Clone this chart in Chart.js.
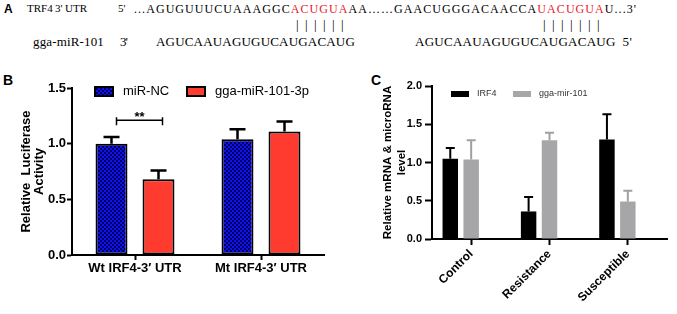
<!DOCTYPE html>
<html>
<head>
<meta charset="utf-8">
<script src="https://cdn.jsdelivr.net/npm/chart.js@4.4.1/dist/chart.umd.min.js"></script>
<style>
  body { margin: 0; width: 677px; height: 314px; background: #fff; position: relative; overflow: hidden; }
  .seq { position: absolute; white-space: pre; font-family: "Liberation Serif", "Times New Roman", serif; font-size: 13px; line-height: 1; color: #000; }
  .l1 { font-size: 12px; top: 2.5px; }
  .lab1 { font-size: 11px; top: 3px; }
  .l3 { top: 35px; }
  .red { color: #e8202a; }
  .pair { letter-spacing: 6.4px; top: 18px; }
  .panel { position: absolute; font-family: "Liberation Sans", Arial, sans-serif; font-weight: bold; font-size: 14px; line-height: 1; }
  #wrapB { position: absolute; left: 0; top: 60px; width: 335px; height: 254px; }
  #wrapC { position: absolute; left: 340px; top: 60px; width: 337px; height: 254px; }
</style>
</head>
<body>
<!-- panel A: sequence alignment, plain text; data-w is the width each piece spans in the figure -->
<div class="panel" style="left:4px;top:3px;font-size:12px">A</div>
<div class="seq lab1" style="left:27px">TRF4</div>
<div class="seq lab1" style="left:55px">3'</div>
<div class="seq lab1" style="left:65px">UTR</div>
<div class="seq lab1" style="left:118px">5'</div>
<div class="seq l1" style="left:134px" data-w="503">...AGUGUUUCUAAAGGC<span class="red">ACUGUA</span>AA……GAACUGGGACAACCA<span class="red">UACUGUA</span>U...3'</div>
<div class="seq pair" style="left:296px">||||||</div>
<div class="seq pair" style="left:543px">|||||||</div>
<div class="seq l3" style="left:33px" data-w="71">gga-miR-101</div>
<div class="seq l3" style="left:120px" data-w="7">3'</div>
<div class="seq l3" style="left:156px" data-w="199">AGUCAAUAGUGUCAUGACAUG</div>
<div class="seq l3" style="left:415px" data-w="217">AGUCAAUAGUGUCAUGACAUG  5'</div>

<div class="panel" style="left:3px;top:73px">B</div>
<div class="panel" style="left:371px;top:73px">C</div>

<div id="wrapB"><canvas id="chartB"></canvas></div>
<div id="wrapC"><canvas id="chartC"></canvas></div>

<script>
// Panel B - luciferase assay
const constructs = ["Wt IRF4-3′ UTR", "Mt IRF4-3′ UTR"];
const ncMean = [1.00, 1.04];
const ncErr = [0.06, 0.09];
const mirMean = [0.68, 1.11];
const mirErr = [0.08, 0.09];

// Panel C - expression in the three groups
const groups = ["Control", "Resistance", "Susceptible"];
const irf4Mean = [1.05, 0.36, 1.30];
const irf4Err = [0.14, 0.19, 0.33];
const mir101Mean = [1.04, 1.29, 0.49];
const mir101Err = [0.25, 0.10, 0.14];

// stretch the alignment text to the widths it has in the figure
document.querySelectorAll(".seq[data-w]").forEach(el => {
    const n = el.textContent.length;
    const natural = el.getBoundingClientRect().width;
    el.style.letterSpacing = ((+el.dataset.w - natural) / n) + "px";
});

Chart.defaults.font.family = "'Liberation Sans', Arial, sans-serif";
Chart.defaults.color = "#000";

// dark blue checker fill used by the miR-NC bars
function checker() {
    const c = document.createElement("canvas");
    c.width = 4; c.height = 4;
    const g = c.getContext("2d");
    g.fillStyle = "#1010f0";
    g.fillRect(0, 0, 4, 4);
    g.fillStyle = "#000060";
    g.fillRect(0, 0, 2, 2);
    g.fillRect(2, 2, 2, 2);
    return g.createPattern(c, "repeat");
}

// upper error bars, drawn from the bar top
const errorBars = {
    id: "errorBars",
    afterDatasetsDraw(chart, args, opts) {
        const ctx = chart.ctx;
        const y = chart.scales.y;
        chart.data.datasets.forEach((ds, di) => {
            if (!ds.errors) return;
            chart.getDatasetMeta(di).data.forEach((bar, i) => {
                const top = y.getPixelForValue(ds.data[i] + ds.errors[i]);
                ctx.save();
                ctx.strokeStyle = ds.errColor;
                ctx.lineWidth = opts.width;
                ctx.beginPath();
                ctx.moveTo(bar.x, bar.y);
                ctx.lineTo(bar.x, top);
                ctx.moveTo(bar.x - opts.cap, top);
                ctx.lineTo(bar.x + opts.cap, top);
                ctx.stroke();
                ctx.restore();
            });
        });
    }
};

// legend drawn inside the plot area like the original
const boxLegend = {
    id: "boxLegend",
    afterDraw(chart, args, opts) {
        const ctx = chart.ctx;
        chart.data.datasets.forEach((ds, i) => {
            if (!ds.label) return;
            const x = opts.x[i];
            ctx.save();
            ctx.fillStyle = ds.backgroundColor;
            ctx.fillRect(x, opts.y, opts.boxW, opts.boxH);
            if (ds.borderWidth) {
                ctx.lineWidth = ds.borderWidth;
                ctx.strokeStyle = ds.borderColor;
                ctx.strokeRect(x, opts.y, opts.boxW, opts.boxH);
            }
            ctx.fillStyle = opts.color;
            ctx.font = opts.font;
            ctx.textBaseline = "middle";
            ctx.fillText(ds.label, x + opts.boxW + opts.gap, opts.y + opts.boxH / 2);
            ctx.restore();
        });
    }
};

// significance bracket between the two Wt bars
const sigBracket = {
    id: "sigBracket",
    afterDatasetsDraw(chart, args, opts) {
        if (!opts.show) return;
        const ctx = chart.ctx;
        const a = chart.getDatasetMeta(0).data[0];
        const b = chart.getDatasetMeta(1).data[0];
        const y = chart.scales.y.getPixelForValue(opts.value);
        const x1 = a.x + 5, x2 = b.x + 4;
        ctx.save();
        ctx.strokeStyle = "#000";
        ctx.lineWidth = 1.5;
        ctx.beginPath();
        ctx.moveTo(x1, y); ctx.lineTo(x2, y);
        ctx.moveTo(x1, y - 3); ctx.lineTo(x1, y + 5);
        ctx.moveTo(x2, y - 3); ctx.lineTo(x2, y + 5);
        ctx.stroke();
        ctx.fillStyle = "#000";
        ctx.font = "bold 13px 'Liberation Sans', Arial, sans-serif";
        ctx.textAlign = "center";
        ctx.textBaseline = "alphabetic";
        ctx.fillText(opts.text, (x1 + x2) / 2, y + 1);
        ctx.restore();
    }
};

function axisGrid(len) {
    return { display: true, drawOnChartArea: false, offset: false, tickLength: len, tickWidth: 2, tickColor: "#000" };
}

new Chart(document.getElementById("chartB"), {
    type: "bar",
    data: {
        labels: constructs,
        datasets: [
            { label: "miR-NC", data: ncMean, errors: ncErr, errColor: "#000",
              backgroundColor: checker(), borderColor: "#000", borderWidth: 2, borderSkipped: false },
            { label: "gga-miR-101-3p", data: mirMean, errors: mirErr, errColor: "#000",
              backgroundColor: "#ff3b2f", borderColor: "#000", borderWidth: 2, borderSkipped: false }
        ]
    },
    options: {
        responsive: true,
        maintainAspectRatio: false,
        animation: false,
        categoryPercentage: 0.746,
        barPercentage: 0.68,
        layout: { padding: { top: 28, right: 11, left: 0, bottom: 0 } },
        plugins: {
            legend: { display: false },
            tooltip: { enabled: false },
            errorBars: { width: 2.5, cap: 8 },
            boxLegend: { x: [95, 187], y: 27, boxW: 18, boxH: 9, gap: 10, color: "#000",
                         font: "13px 'Liberation Sans', Arial, sans-serif" },
            sigBracket: { show: true, value: 1.21, text: "**" }
        },
        scales: {
            x: {
                grid: axisGrid(5),
                border: { color: "#000", width: 2 },
                ticks: { color: "#000", font: { size: 13, weight: "bold" }, padding: 1, maxRotation: 0 },
                afterFit(s) { s.height = 59; }
            },
            y: {
                min: 0, max: 1.5,
                grid: axisGrid(5),
                border: { color: "#000", width: 2 },
                ticks: { stepSize: 0.5, color: "#000", font: { size: 13, weight: "bold" }, padding: 1,
                         callback: v => v.toFixed(1) },
                title: { display: true, text: ["Relative  Luciferase", "Activity"], color: "#000",
                         font: { size: 13, weight: "bold", lineHeight: 1 }, padding: { top: 19.5 } },
                afterFit(s) { s.width = 72; }
            }
        }
    },
    plugins: [errorBars, boxLegend, sigBracket]
});

new Chart(document.getElementById("chartC"), {
    type: "bar",
    data: {
        labels: groups,
        datasets: [
            { label: "IRF4", data: irf4Mean, errors: irf4Err, errColor: "#000", backgroundColor: "#000" },
            { label: "gga-mir-101", data: mir101Mean, errors: mir101Err, errColor: "#a0a0a2", backgroundColor: "#a6a6a8" },
            // empty slot so the pair sits left of the tick, as in the original
            { label: "", data: [null, null, null] }
        ]
    },
    options: {
        responsive: true,
        maintainAspectRatio: false,
        animation: false,
        categoryPercentage: 0.8,
        barPercentage: 0.74,
        layout: { padding: { top: 26, right: 10, left: 0, bottom: 0 } },
        plugins: {
            legend: { display: false },
            tooltip: { enabled: false },
            errorBars: { width: 2, cap: 4.5 },
            boxLegend: { x: [111, 173], y: 31, boxW: 18, boxH: 6, gap: 8, color: "#333",
                         font: "9px 'Liberation Sans', Arial, sans-serif" },
            sigBracket: { show: false }
        },
        scales: {
            x: {
                grid: axisGrid(6),
                border: { color: "#000", width: 2 },
                ticks: { color: "#000", font: { size: 12, weight: "bold" }, padding: 2,
                         minRotation: 45, maxRotation: 45 },
                afterFit(s) { s.height = 75; }
            },
            y: {
                min: 0, max: 2,
                grid: axisGrid(7),
                border: { color: "#000", width: 2 },
                ticks: { stepSize: 0.5, color: "#000", font: { size: 11, weight: "bold" }, padding: 3,
                         callback: v => v.toFixed(1) },
                title: { display: true, text: ["Relative mRNA & microRNA", "level"], color: "#000",
                         font: { size: 11.5, weight: "bold", lineHeight: 1.2 }, padding: { top: 41 } },
                afterFit(s) { s.width = 92; }
            }
        }
    },
    plugins: [errorBars, boxLegend, sigBracket]
});
</script>
</body>
</html>
